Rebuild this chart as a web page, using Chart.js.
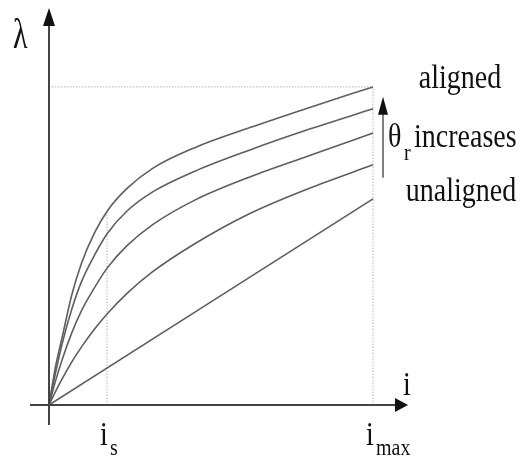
<!DOCTYPE html>
<html>
<head>
<meta charset="utf-8">
<script src="https://cdn.jsdelivr.net/npm/chart.js@4/dist/chart.umd.min.js"></script>
<style>
  html, body { margin: 0; padding: 0; background: #fff; }
  #wrap { width: 527px; height: 456px; }
</style>
</head>
<body>
<div id="wrap"><canvas id="c" width="527" height="456"></canvas></div>
<script>
// ---- data (current i normalised to i_max = 1, flux linkage normalised to aligned value at i_max = 1)
const iS = 0.179;
const iMax = 1.0;
const xTickValues = [iS, iMax];
const xTickMain = ['i', 'i'];
const xTickSub = ['s', 'max'];

// sample currents shared by the four curved characteristics
const curveX = [0, 0.02, 0.04, 0.07, 0.10, 0.14, 0.18, 0.24, 0.32, 0.45, 0.62, 0.80, 1.0];
// flux linkage, from aligned (top) to the curve just above unaligned
const alignedY = [0, 0.12, 0.21, 0.345, 0.445, 0.54, 0.61, 0.68, 0.744, 0.809, 0.872, 0.934, 1.0];
const curve2Y  = [0, 0.10, 0.19, 0.300, 0.387, 0.47, 0.539, 0.609, 0.670, 0.735, 0.802, 0.866, 0.931];
const curve3Y  = [0, 0.075, 0.141, 0.226, 0.296, 0.368, 0.431, 0.500, 0.567, 0.644, 0.717, 0.783, 0.855];
const curve4Y  = [0, 0.042, 0.081, 0.135, 0.182, 0.238, 0.287, 0.350, 0.419, 0.507, 0.602, 0.680, 0.755];
// unaligned: straight line
const unalignedX = [0, 1.0];
const unalignedY = [0, 0.648];

const labelAligned = 'aligned';
const labelUnaligned = 'unaligned';
const labelTheta = 'θ';
const labelThetaSub = 'r';
const labelIncreases = 'increases';
const labelYAxis = 'λ';
const labelXAxis = 'i';

function pts(xs, ys) { return xs.map((x, k) => ({ x: x, y: ys[k] })); }

const curveStyle = {
  showLine: true, borderColor: '#5e5e5e', borderWidth: 1.6, pointRadius: 0,
  tension: 0.4, cubicInterpolationMode: 'monotone', fill: false
};
const guideStyle = {
  showLine: true, borderColor: '#b5b5b5', borderWidth: 1, borderDash: [1.5, 1.5],
  pointRadius: 0, tension: 0, fill: false
};

const lamMax = alignedY[alignedY.length - 1];
const lamAtIs = alignedY[curveX.indexOf(0.18)];

const datasets = [
  Object.assign({ data: pts(curveX, alignedY) }, curveStyle),
  Object.assign({ data: pts(curveX, curve2Y) }, curveStyle),
  Object.assign({ data: pts(curveX, curve3Y) }, curveStyle),
  Object.assign({ data: pts(curveX, curve4Y) }, curveStyle),
  Object.assign({ data: pts(unalignedX, unalignedY) }, curveStyle),
  // guides: λ at aligned i_max, i_max vertical, i_s vertical
  Object.assign({ data: [{ x: 0, y: lamMax }, { x: iMax, y: lamMax }] }, guideStyle),
  Object.assign({ data: [{ x: iMax, y: 0 }, { x: iMax, y: lamMax }] }, guideStyle),
  Object.assign({ data: [{ x: iS, y: 0 }, { x: iS, y: lamAtIs }] }, guideStyle)
];

function txt(ctx, s, x, y, size, align, sy) {
  ctx.save();
  ctx.translate(x, y);
  ctx.scale(1, sy || 1.2);
  ctx.font = size + 'px "Liberation Serif"';
  ctx.textAlign = align || 'left';
  ctx.textBaseline = 'alphabetic';
  ctx.fillStyle = '#111';
  ctx.fillText(s, 0, 0);
  ctx.restore();
}

const decor = {
  id: 'decor',
  afterDraw(chart) {
    const ctx = chart.ctx;
    const xs = chart.scales.x, ys = chart.scales.y, ca = chart.chartArea;
    const x0 = xs.getPixelForValue(0), y0 = ys.getPixelForValue(0);
    ctx.save();
    ctx.strokeStyle = '#444'; ctx.fillStyle = '#111'; ctx.lineWidth = 2;
    // y axis
    ctx.beginPath(); ctx.moveTo(x0, y0 + 20); ctx.lineTo(x0, ca.top + 14); ctx.stroke();
    ctx.beginPath(); ctx.moveTo(x0, ca.top); ctx.lineTo(x0 - 6, ca.top + 18); ctx.lineTo(x0 + 6, ca.top + 18); ctx.closePath(); ctx.fill();
    // x axis
    ctx.beginPath(); ctx.moveTo(x0 - 19, y0); ctx.lineTo(ca.right - 10, y0); ctx.stroke();
    ctx.beginPath(); ctx.moveTo(ca.right, y0); ctx.lineTo(ca.right - 13, y0 - 7); ctx.lineTo(ca.right - 13, y0 + 7); ctx.closePath(); ctx.fill();
    // theta arrow
    const xm = xs.getPixelForValue(iMax);
    const ax = xm + 10;
    const yTop = ys.getPixelForValue(curve2Y[curve2Y.length - 1]);
    const yBot = ys.getPixelForValue(unalignedY[unalignedY.length - 1]);
    ctx.lineWidth = 1.5; ctx.strokeStyle = '#555';
    ctx.beginPath(); ctx.moveTo(ax, yBot - 21); ctx.lineTo(ax, yTop); ctx.stroke();
    ctx.beginPath(); ctx.moveTo(ax, yTop - 12); ctx.lineTo(ax - 5, yTop + 6); ctx.lineTo(ax + 5, yTop + 6); ctx.closePath(); ctx.fill();
    ctx.restore();

    // axis labels
    txt(ctx, labelYAxis, 13, 48, 30, 'left', 1.4);
    txt(ctx, labelXAxis, ca.right - 5, y0 - 10, 28, 'left');
    // ticks
    xTickValues.forEach((v, k) => {
      const px = xs.getPixelForValue(v);
      txt(ctx, xTickMain[k], px - 7, 445, 28, 'left');
      txt(ctx, xTickSub[k], px + 3, 455, 20, 'left');
    });
    // right annotations
    txt(ctx, labelAligned, 460, 88, 28, 'center');
    txt(ctx, labelTheta, 388, 147, 28, 'left');
    txt(ctx, labelThetaSub, 404, 160, 20, 'left');
    txt(ctx, labelIncreases, 414, 147, 28, 'left');
    txt(ctx, labelUnaligned, 461, 201, 28, 'center');
  }
};

new Chart(document.getElementById('c'), {
  type: 'scatter',
  data: { datasets: datasets },
  options: {
    responsive: false,
    devicePixelRatio: 1,
    animation: false,
    layout: { padding: { left: 49, top: 8, right: 119, bottom: 51 } },
    plugins: { legend: { display: false }, tooltip: { enabled: false } },
    scales: {
      x: { type: 'linear', min: 0, max: 1.108, display: false },
      y: { type: 'linear', min: 0, max: 1.248, display: false }
    }
  },
  plugins: [decor]
});
</script>
</body>
</html>
